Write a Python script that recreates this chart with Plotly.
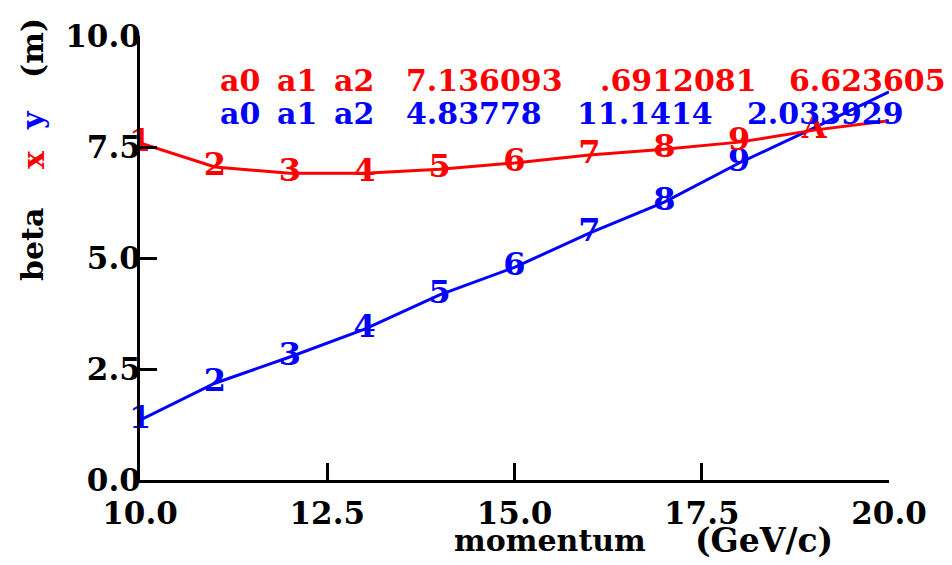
import plotly.graph_objects as go

# ---- data ----
momentum = [10, 11, 12, 13, 14, 15, 16, 17, 18, 19, 20]
beta_x = [7.59, 7.05, 6.91, 6.91, 7.00, 7.14, 7.32, 7.45, 7.61, 7.88, 8.09]
beta_y = [1.35, 2.18, 2.77, 3.40, 4.17, 4.79, 5.56, 6.26, 7.14, 7.93, 8.74]
labels_x = ["1", "2", "3", "4", "5", "6", "7", "8", "9", "A"]
labels_y = ["1", "2", "3", "4", "5", "6", "7", "8", "9"]

fit_x = ["a0", "a1", "a2", "7.136093", ".6912081", "6.623605"]
fit_y = ["a0", "a1", "a2", "4.83778", "11.1414", "2.033929"]

x_ticks = [10.0, 12.5, 15.0, 17.5, 20.0]
y_ticks = [0.0, 2.5, 5.0, 7.5, 10.0]

RED = "#ff0000"
BLUE = "#0000ff"
FONT = "DejaVu Serif"
FS = 30

W, H = 952, 565
L, R, T, B = 140, 63, 36, 85
PW, PH = W - L - R, H - T - B


def px(x):
    return (x - L) / PW


def py(y):
    return (H - B - y) / PH


def f(color="black", size=FS):
    return dict(family=FONT, size=size, color=color, weight="bold")


fig = go.Figure()

fig.add_trace(go.Scatter(x=momentum, y=beta_y, mode="lines",
                         line=dict(color=BLUE, width=3), hoverinfo="skip"))
fig.add_trace(go.Scatter(x=momentum, y=beta_x, mode="lines",
                         line=dict(color=RED, width=3), hoverinfo="skip"))
fig.add_trace(go.Scatter(x=momentum[:len(labels_y)], y=beta_y[:len(labels_y)], mode="text",
                         text=labels_y, textposition="middle center", cliponaxis=False,
                         textfont=f(BLUE, 32)))
fig.add_trace(go.Scatter(x=momentum[:len(labels_x)], y=beta_x[:len(labels_x)], mode="text",
                         text=labels_x, textposition="middle center", cliponaxis=False,
                         textfont=f(RED, 32)))

annotations = []
for txt, xp in zip(fit_x, [218, 275, 332, 404, 598, 787]):
    annotations.append(dict(text=txt, xref="paper", yref="paper", x=px(xp), y=py(80),
                            xanchor="left", yanchor="middle", showarrow=False,
                            font=f(RED)))
for txt, xp in zip(fit_y, [218, 275, 332, 404, 575, 745]):
    annotations.append(dict(text=txt, xref="paper", yref="paper", x=px(xp), y=py(114),
                            xanchor="left", yanchor="middle", showarrow=False,
                            font=f(BLUE)))

# y-axis title pieces (rotated)
for txt, col, yc in [("beta", "black", 245), ("x", RED, 160), ("y", BLUE, 120), ("(m)", "black", 48)]:
    annotations.append(dict(text=txt, xref="paper", yref="paper", x=px(33), y=py(yc),
                            textangle=-90, xanchor="center", yanchor="middle",
                            showarrow=False, font=f(col)))

# x-axis title pieces
for txt, xl, sz in [("momentum", 452, 30), ("(GeV/c)", 693, 33)]:
    annotations.append(dict(text=txt, xref="paper", yref="paper", x=px(xl), y=py(540),
                            xanchor="left", yanchor="middle", showarrow=False,
                            font=f(size=sz)))

axis_common = dict(showgrid=False, zeroline=False, showline=True, linecolor="black",
                   linewidth=3, ticks="inside", ticklen=17, tickwidth=3, tickcolor="black",
                   tickfont=f(size=31), tickformat=".1f")

fig.update_layout(
    width=W, height=H,
    margin=dict(l=L, r=R, t=T, b=B, pad=0),
    paper_bgcolor="white", plot_bgcolor="white",
    showlegend=False,
    xaxis=dict(range=[10, 20], tickvals=x_ticks, ticklabelstandoff=4, **axis_common),
    yaxis=dict(range=[0, 10], tickvals=y_ticks, ticklabelstandoff=-10, **axis_common),
    annotations=annotations,
)

fig.write_html("out.html")
